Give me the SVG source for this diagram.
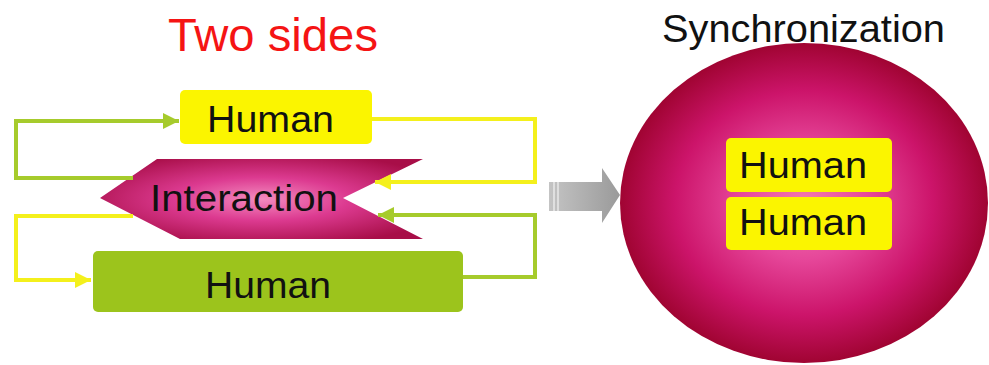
<svg xmlns="http://www.w3.org/2000/svg" width="989" height="365" viewBox="0 0 989 365">
<defs>
<style>
.lbl{font-family:"Liberation Sans",Arial,sans-serif;fill:#111;}
.ybox{fill:#fbf500;}
.gline{fill:none;stroke:#a6cb2c;stroke-width:4;}
.yline{fill:none;stroke:#f4f01c;stroke-width:4;}
</style>
<marker id="ag" markerUnits="userSpaceOnUse" markerWidth="18" markerHeight="18" refX="16" refY="8" orient="auto"><path d="M0,0 L16,8 L0,16 z" fill="#a6cb2c"/></marker>
<marker id="ay" markerUnits="userSpaceOnUse" markerWidth="18" markerHeight="18" refX="16" refY="8" orient="auto"><path d="M0,0 L16,8 L0,16 z" fill="#f4f01c"/></marker>
<radialGradient id="gInt" cx="0.5" cy="0.5" r="0.6">
<stop offset="0" stop-color="#f48cc0"/>
<stop offset="0.45" stop-color="#dc3a90"/>
<stop offset="1" stop-color="#a80e48"/>
</radialGradient>
<radialGradient id="gSph" cx="0.5" cy="0.5" r="0.5">
<stop offset="0" stop-color="#f27ab0"/>
<stop offset="0.35" stop-color="#e6479a"/>
<stop offset="0.7" stop-color="#cc146a"/>
<stop offset="1" stop-color="#a00432"/>
</radialGradient>
<linearGradient id="gArr" x1="0" y1="0" x2="1" y2="0">
<stop offset="0" stop-color="#c4c4c4"/>
<stop offset="1" stop-color="#9a9a9a"/>
</linearGradient>
</defs>
<rect width="989" height="365" fill="#fff"/>
<text class="lbl" x="168" y="51" font-size="46" style="fill:#f51414" textLength="210" lengthAdjust="spacingAndGlyphs">Two sides</text>
<text class="lbl" x="662" y="42" font-size="38" textLength="283" lengthAdjust="spacingAndGlyphs">Synchronization</text>

<g id="human-top">
<rect class="ybox" x="180" y="90" width="192" height="54" rx="5"/>
<text class="lbl" x="207" y="132" font-size="37" textLength="127" lengthAdjust="spacingAndGlyphs">Human</text>
</g>
<g id="interaction">
<polygon points="157,159 423,159 343,198 423,239 180,239 100,198" fill="url(#gInt)"/>
<text class="lbl" x="150" y="211" font-size="36" textLength="188" lengthAdjust="spacingAndGlyphs">Interaction</text>
</g>
<g id="human-bottom">
<rect x="93" y="251" width="370" height="61" rx="5" fill="#9cc41c"/>
<text class="lbl" x="205" y="298" font-size="37" textLength="126" lengthAdjust="spacingAndGlyphs">Human</text>
</g>

<g id="connectors">
<path class="gline" d="M133,178 H16 V121 H179" marker-end="url(#ag)"/>
<path class="yline" d="M372,119 H535 V182 H375" marker-end="url(#ay)"/>
<path class="yline" d="M133,216 H16 V280 H91" marker-end="url(#ay)"/>
<path class="gline" d="M463,277 H535 V215 H378" marker-end="url(#ag)"/>
</g>

<g id="transition-arrow">
<polygon points="549,182 602,182 602,168 620,195 602,223 602,211 549,211" fill="url(#gArr)"/>
<line x1="554" y1="182" x2="554" y2="211" stroke="#f4f4f4" stroke-width="1.2"/>
<line x1="558" y1="182" x2="558" y2="211" stroke="#f4f4f4" stroke-width="1.2"/>
</g>

<g id="synchronization">
<ellipse cx="804" cy="203" rx="184" ry="160" fill="url(#gSph)"/>
</g>
<g id="human-sync-1">
<rect class="ybox" x="726" y="138" width="166" height="54" rx="5"/>
<text class="lbl" x="739" y="178" font-size="36" textLength="128" lengthAdjust="spacingAndGlyphs">Human</text>
</g>
<g id="human-sync-2">
<rect class="ybox" x="726" y="197" width="166" height="53" rx="5"/>
<text class="lbl" x="739" y="235" font-size="36" textLength="128" lengthAdjust="spacingAndGlyphs">Human</text>
</g>
</svg>
